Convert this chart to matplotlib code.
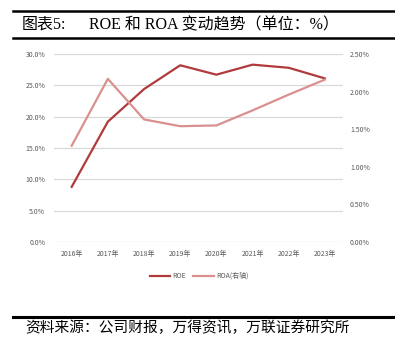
import matplotlib

matplotlib.use("Agg")
import matplotlib.pyplot as plt
from matplotlib.lines import Line2D
from matplotlib.ticker import FuncFormatter

plt.rcParams["font.family"] = ["Noto Sans CJK SC", "DejaVu Sans"]

# data
years = ["2016年", "2017年", "2018年", "2019年", "2020年", "2021年", "2022年", "2023年"]
roe = [8.8, 19.2, 24.4, 28.2, 26.7, 28.3, 27.8, 26.1]   # left axis, %
roa = [1.28, 2.17, 1.63, 1.54, 1.55, 1.75, 1.96, 2.16]   # right axis, %
left_ticks = [0, 5, 10, 15, 20, 25, 30]
right_ticks = [0, 0.5, 1.0, 1.5, 2.0, 2.5]

ROE_C = "#B03A3C"
ROA_C = "#D9908F"
GRID = "#D9D9D9"
TICK = "#595959"

W, H = 395, 345
fig = plt.figure(figsize=(W / 100, H / 100), dpi=100)


def fx(px):
    return px / W


def fy(py):
    return 1 - py / H


ax = fig.add_axes([fx(53.6), fy(242), fx(343 - 53.6), (242 - 54) / H])
ax2 = ax.twinx()

x = range(len(years))
l1, = ax.plot(x, roe, color=ROE_C, lw=1.6, label="ROE", zorder=3)
l2, = ax2.plot(x, roa, color=ROA_C, lw=1.6, label="ROA(右轴)", zorder=3)

ax.set_xlim(-0.5, len(years) - 0.5)
ax.set_ylim(0, 30)
ax2.set_ylim(0, 2.5)
ax.set_yticks(left_ticks)
ax2.set_yticks(right_ticks)
ax.yaxis.set_major_formatter(FuncFormatter(lambda v, _: f"{v:.1f}%"))
ax2.yaxis.set_major_formatter(FuncFormatter(lambda v, _: f"{v:.2f}%"))
ax.set_xticks(list(x))
ax.set_xticklabels(years)

ax.grid(axis="y", color=GRID, lw=0.9)
ax.set_axisbelow(True)
for a in (ax, ax2):
    for s in a.spines.values():
        s.set_visible(False)
    a.tick_params(length=0, labelsize=5, colors=TICK)
ax.tick_params(axis="y", pad=6)
ax2.tick_params(axis="y", pad=5)
ax.tick_params(axis="x", pad=6)

fig.legend([l1, l2], ["ROE", "ROA(右轴)"], loc="center", bbox_to_anchor=(fx(199), fy(276)),
           ncol=2, frameon=False, fontsize=5, handlelength=3.0, handletextpad=0.3,
           columnspacing=1.0, labelcolor=TICK)

# header / footer rules
for yy, lw in [(11, 1.8), (38, 1.8), (317, 2.2)]:
    fig.add_artist(Line2D([fx(13), 1], [fy(yy), fy(yy)], transform=fig.transFigure,
                          color="black", lw=lw))

serif = ["Liberation Serif", "Noto Sans CJK SC"]
fig.text(fx(22), fy(25), "图表5:", family=serif, fontsize=11.5, va="center", ha="left")
fig.text(fx(89), fy(25), "ROE 和 ROA 变动趋势（单位：%）", family=serif, fontsize=11.5,
         va="center", ha="left")
fig.text(fx(25), fy(328), "资料来源：公司财报，万得资讯，万联证券研究所", fontsize=10.6,
         style="italic", va="center", ha="left")

fig.savefig("out.png", dpi=100)
